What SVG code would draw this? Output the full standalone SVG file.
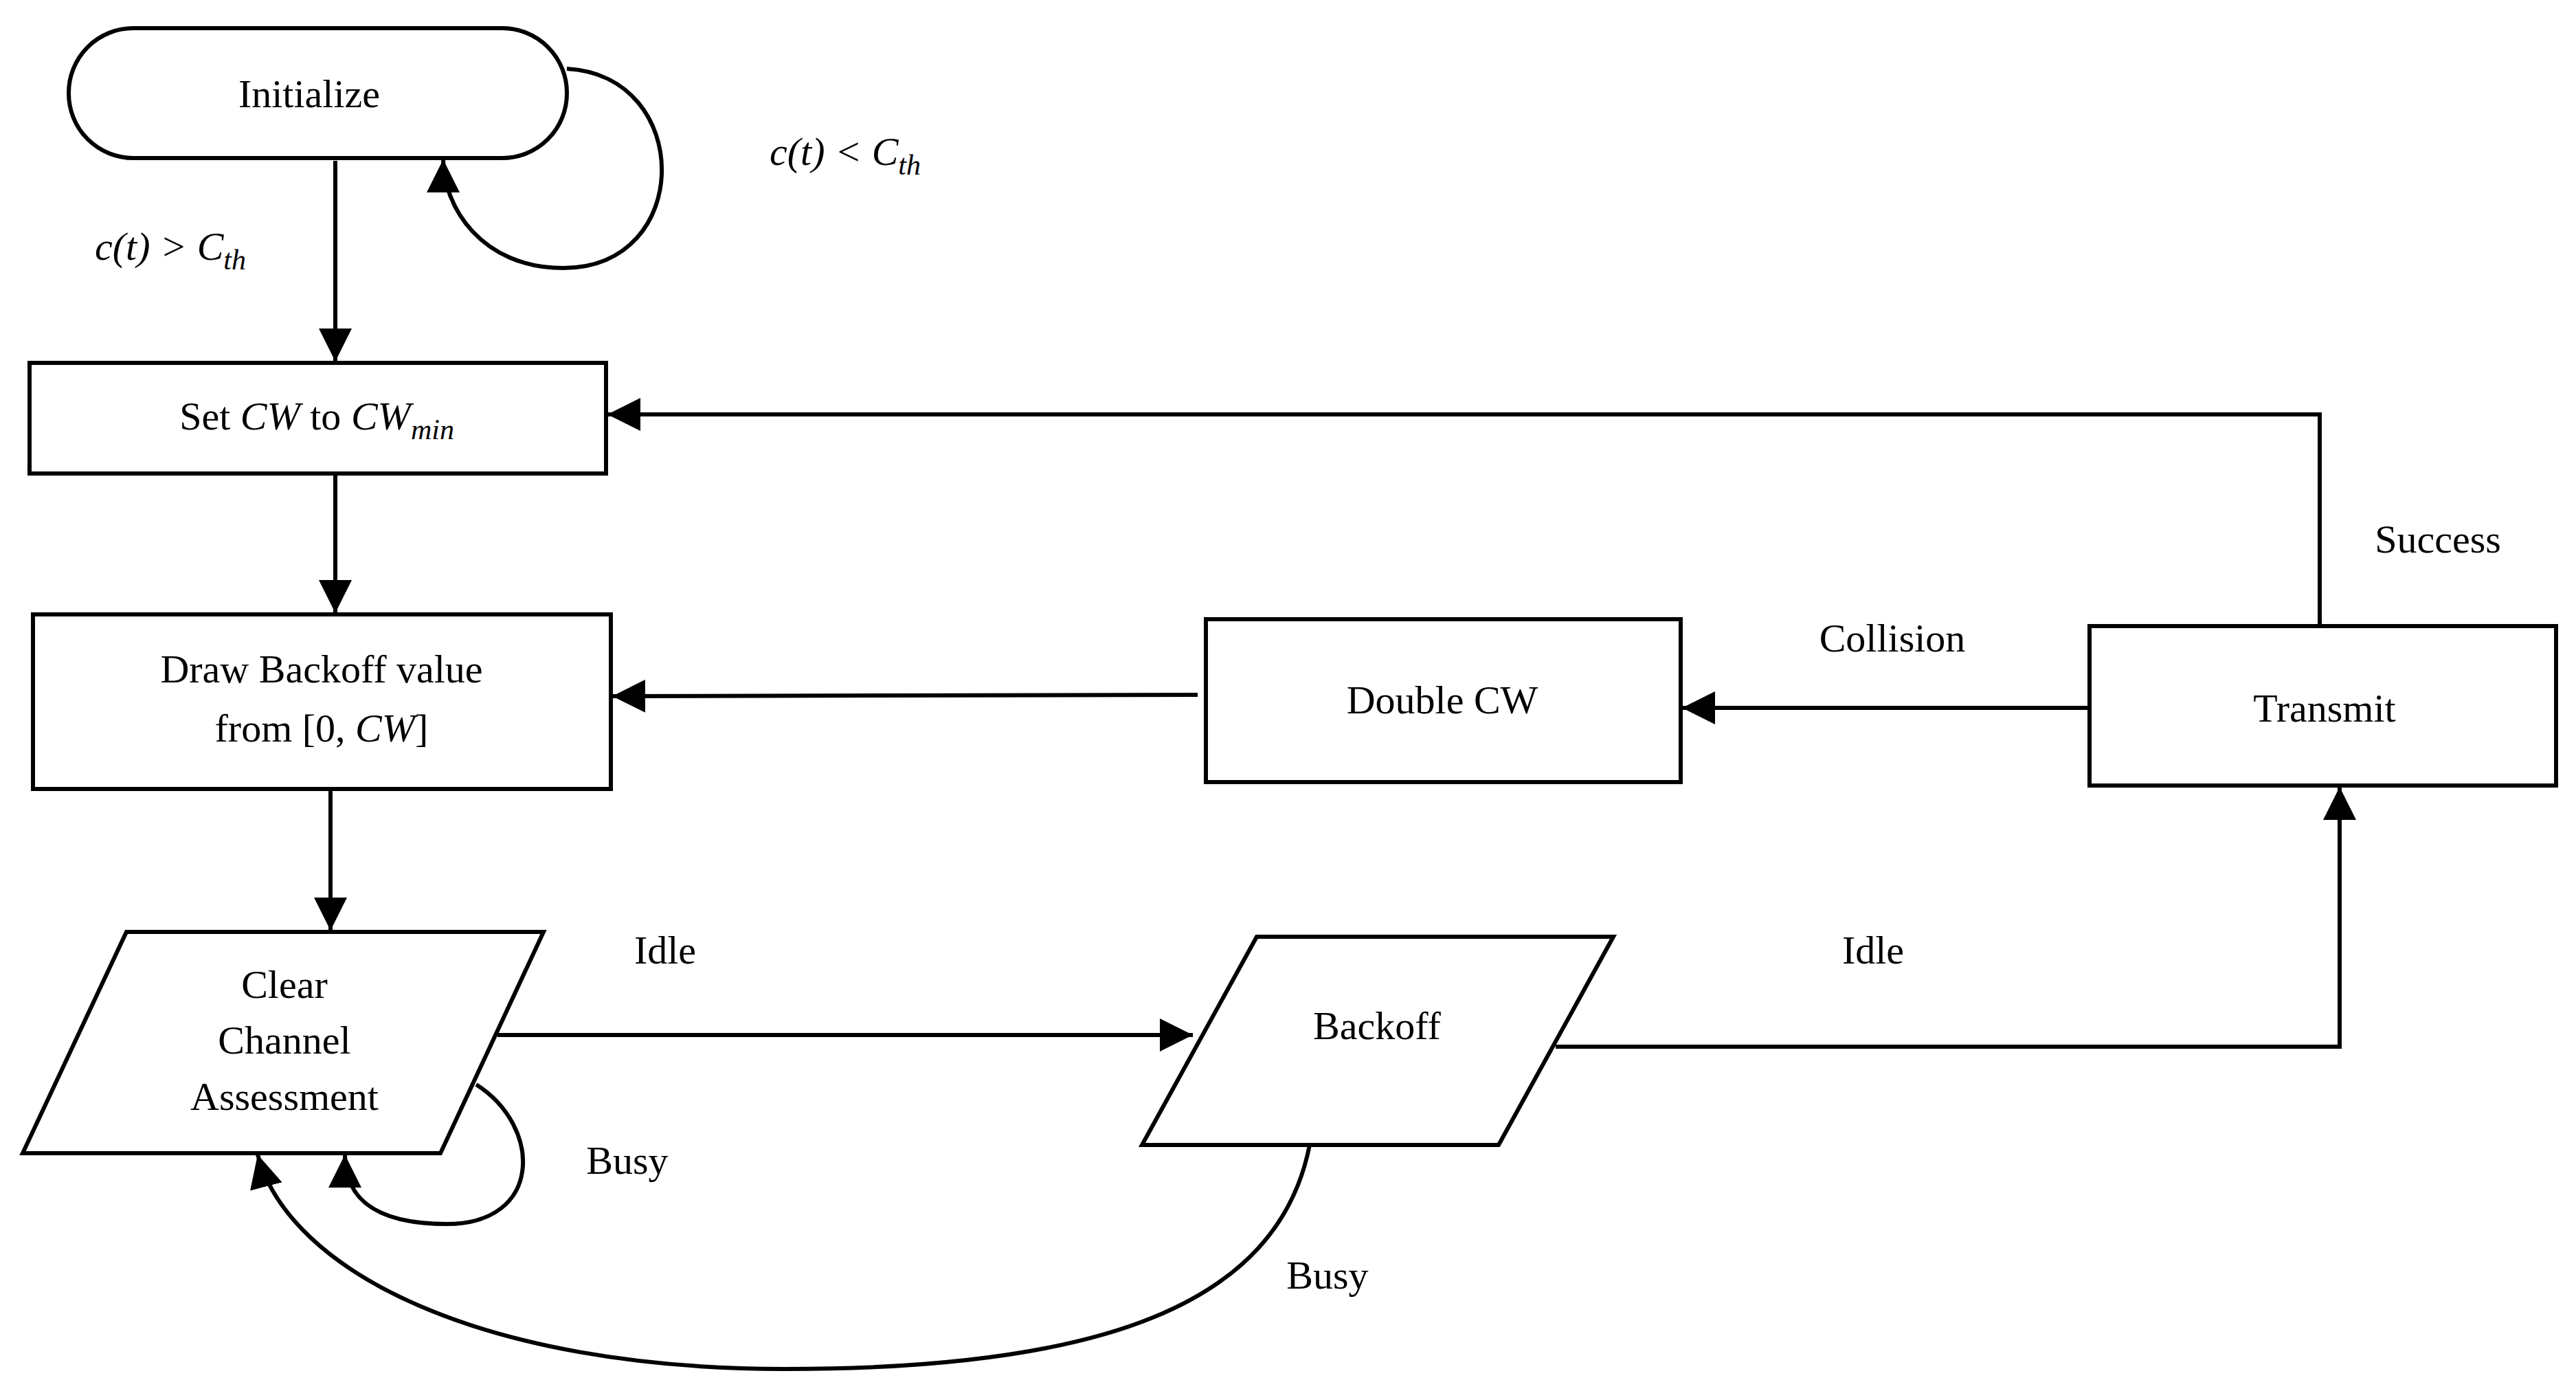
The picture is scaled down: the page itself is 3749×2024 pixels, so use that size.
<svg xmlns="http://www.w3.org/2000/svg" width="3749" height="2024" viewBox="0 0 3749 2024">
<style>
.n{fill:#fff;stroke:#000;stroke-width:6}
.c{fill:none;stroke:#000;stroke-width:6}
text{font-family:"Liberation Serif",serif;font-size:58px;fill:#000;text-anchor:middle}
.m{font-style:italic}
</style>
<defs><marker id="a" viewBox="0 0 10 10" refX="10" refY="5" markerWidth="9" markerHeight="9" markerUnits="userSpaceOnUse" orient="auto" style="overflow:visible"><path d="M0,0L10,5L0,10z" transform="scale(5)"/></marker>
<marker id="b" viewBox="0 0 10 10" refX="10" refY="5" markerWidth="8" markerHeight="8" orient="auto"><path d="M0,0L10,5L0,10z"/></marker></defs>
<rect width="3749" height="2024" fill="#fff"/>
<g id="initialize"><rect class="n" x="100" y="41" width="725" height="189" rx="94"/><text x="450" y="156">Initialize</text></g>
<g id="setcw"><rect class="n" x="43" y="528" width="839" height="161"/><text x="461" y="625">Set <tspan class="m">CW</tspan> to <tspan class="m">CW<tspan font-size="42" dy="14">min</tspan></tspan></text></g>
<g id="draw"><rect class="n" x="48" y="894" width="841" height="254"/><text x="468" y="993">Draw Backoff value</text><text x="468" y="1079">from [0, <tspan class="m">CW</tspan>]</text></g>
<g id="cca"><polygon class="n" points="184,1356 791,1356 641,1678 33,1678"/><text x="414" y="1452">Clear</text><text x="414" y="1533">Channel</text><text x="414" y="1615">Assessment</text></g>
<g id="backoff"><polygon class="n" points="1829,1363 2348,1363 2181,1666 1662,1666"/><text x="2004" y="1512">Backoff</text></g>
<g id="doublecw"><rect class="n" x="1755" y="901" width="691" height="237"/><text x="2099" y="1038">Double CW</text></g>
<g id="transmit"><rect class="n" x="3041" y="911" width="679" height="232"/><text x="3383" y="1050">Transmit</text></g>
<g id="connectors">
<path class="c" d="M825,100 C1010,110 1010,390 820,390 C700,390 645,300 645,232" marker-end="url(#b)"/>
<path class="c" d="M488,234 L488,526" marker-end="url(#b)"/>
<path class="c" d="M488,689 L488,892" marker-end="url(#b)"/>
<path class="c" d="M481,1148 L481,1354" marker-end="url(#b)"/>
<path class="c" d="M724,1506 L1736,1506" marker-end="url(#b)"/>
<path class="c" d="M2264,1523 L3405,1523 L3405,1145" marker-end="url(#b)"/>
<path class="c" d="M3376,911 L3376,603 L884,603" marker-end="url(#b)"/>
<path class="c" d="M3041,1030 L2448,1030" marker-end="url(#b)"/>
<path class="c" d="M1743,1011 L891,1013" marker-end="url(#b)"/>
<path class="c" d="M693,1578 C790,1640 790,1781 650,1781 C540,1781 502,1740 502,1680" marker-end="url(#b)"/>
<path class="c" d="M1906,1666 C1860,1900 1600,1992 1143,1992 C700,1992 420,1850 375,1680" marker-end="url(#b)"/>
</g>
<g id="labels">
<text x="1230" y="240" class="m">c(t) &lt; C<tspan font-size="42" dy="14">th</tspan></text>
<text x="248" y="378" class="m">c(t) &gt; C<tspan font-size="42" dy="14">th</tspan></text>
<text x="968" y="1402">Idle</text>
<text x="2726" y="1402">Idle</text>
<text x="3548" y="804">Success</text>
<text x="2754" y="948">Collision</text>
<text x="913" y="1708">Busy</text>
<text x="1932" y="1875">Busy</text>
</g>
</svg>
